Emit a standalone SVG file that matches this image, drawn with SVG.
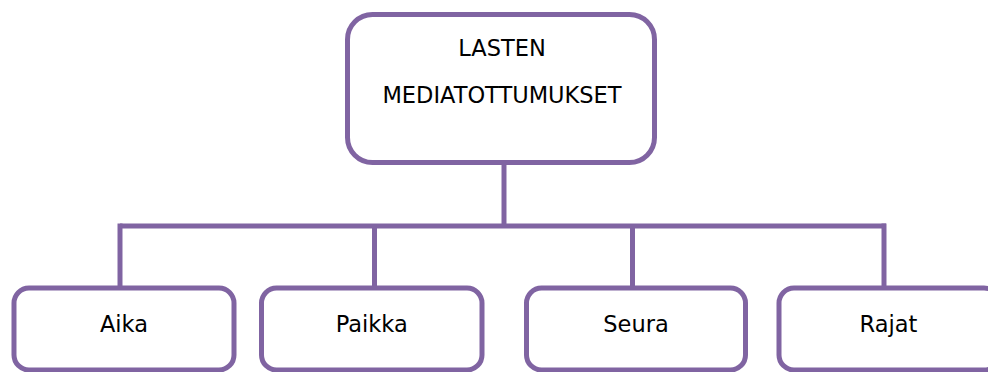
<svg xmlns="http://www.w3.org/2000/svg" width="988" height="372" viewBox="0 0 988 372">
  <style>
    .box { fill: #ffffff; stroke: #8064a2; stroke-width: 5; }
    .conn { fill: none; stroke: #8064a2; stroke-width: 5; stroke-linecap: butt; }
    .lbl { font-family: "DejaVu Sans", "Liberation Sans", sans-serif; font-size: 22.5px; fill: #000000; text-anchor: middle; }
  </style>
  <rect width="988" height="372" fill="#ffffff"/>
  <g id="connectors">
    <path class="conn" d="M504 163 V226"/>
    <path class="conn" d="M120 226 H886"/>
    <path class="conn" d="M120 223.5 V288"/>
    <path class="conn" d="M374.5 226 V288"/>
    <path class="conn" d="M632.5 226 V288"/>
    <path class="conn" d="M884 223.5 V288"/>
  </g>
  <g id="root">
    <rect class="box" x="347.5" y="14.5" width="307" height="148" rx="25" ry="25"/>
    <text class="lbl" x="502" y="56">LASTEN</text>
    <text class="lbl" x="502" y="103">MEDIATOTTUMUKSET</text>
  </g>
  <g id="aika">
    <rect class="box" x="14" y="288" width="220" height="82" rx="15" ry="15"/>
    <text class="lbl" x="124" y="331.5">Aika</text>
  </g>
  <g id="paikka">
    <rect class="box" x="261.5" y="288" width="220.5" height="82" rx="15" ry="15"/>
    <text class="lbl" x="371.7" y="331.5">Paikka</text>
  </g>
  <g id="seura">
    <rect class="box" x="526.5" y="288" width="219" height="82" rx="15" ry="15"/>
    <text class="lbl" x="636" y="331.5">Seura</text>
  </g>
  <g id="rajat">
    <rect class="box" x="779" y="288" width="220" height="82" rx="15" ry="15"/>
    <text class="lbl" x="888.5" y="331.5">Rajat</text>
  </g>
</svg>
